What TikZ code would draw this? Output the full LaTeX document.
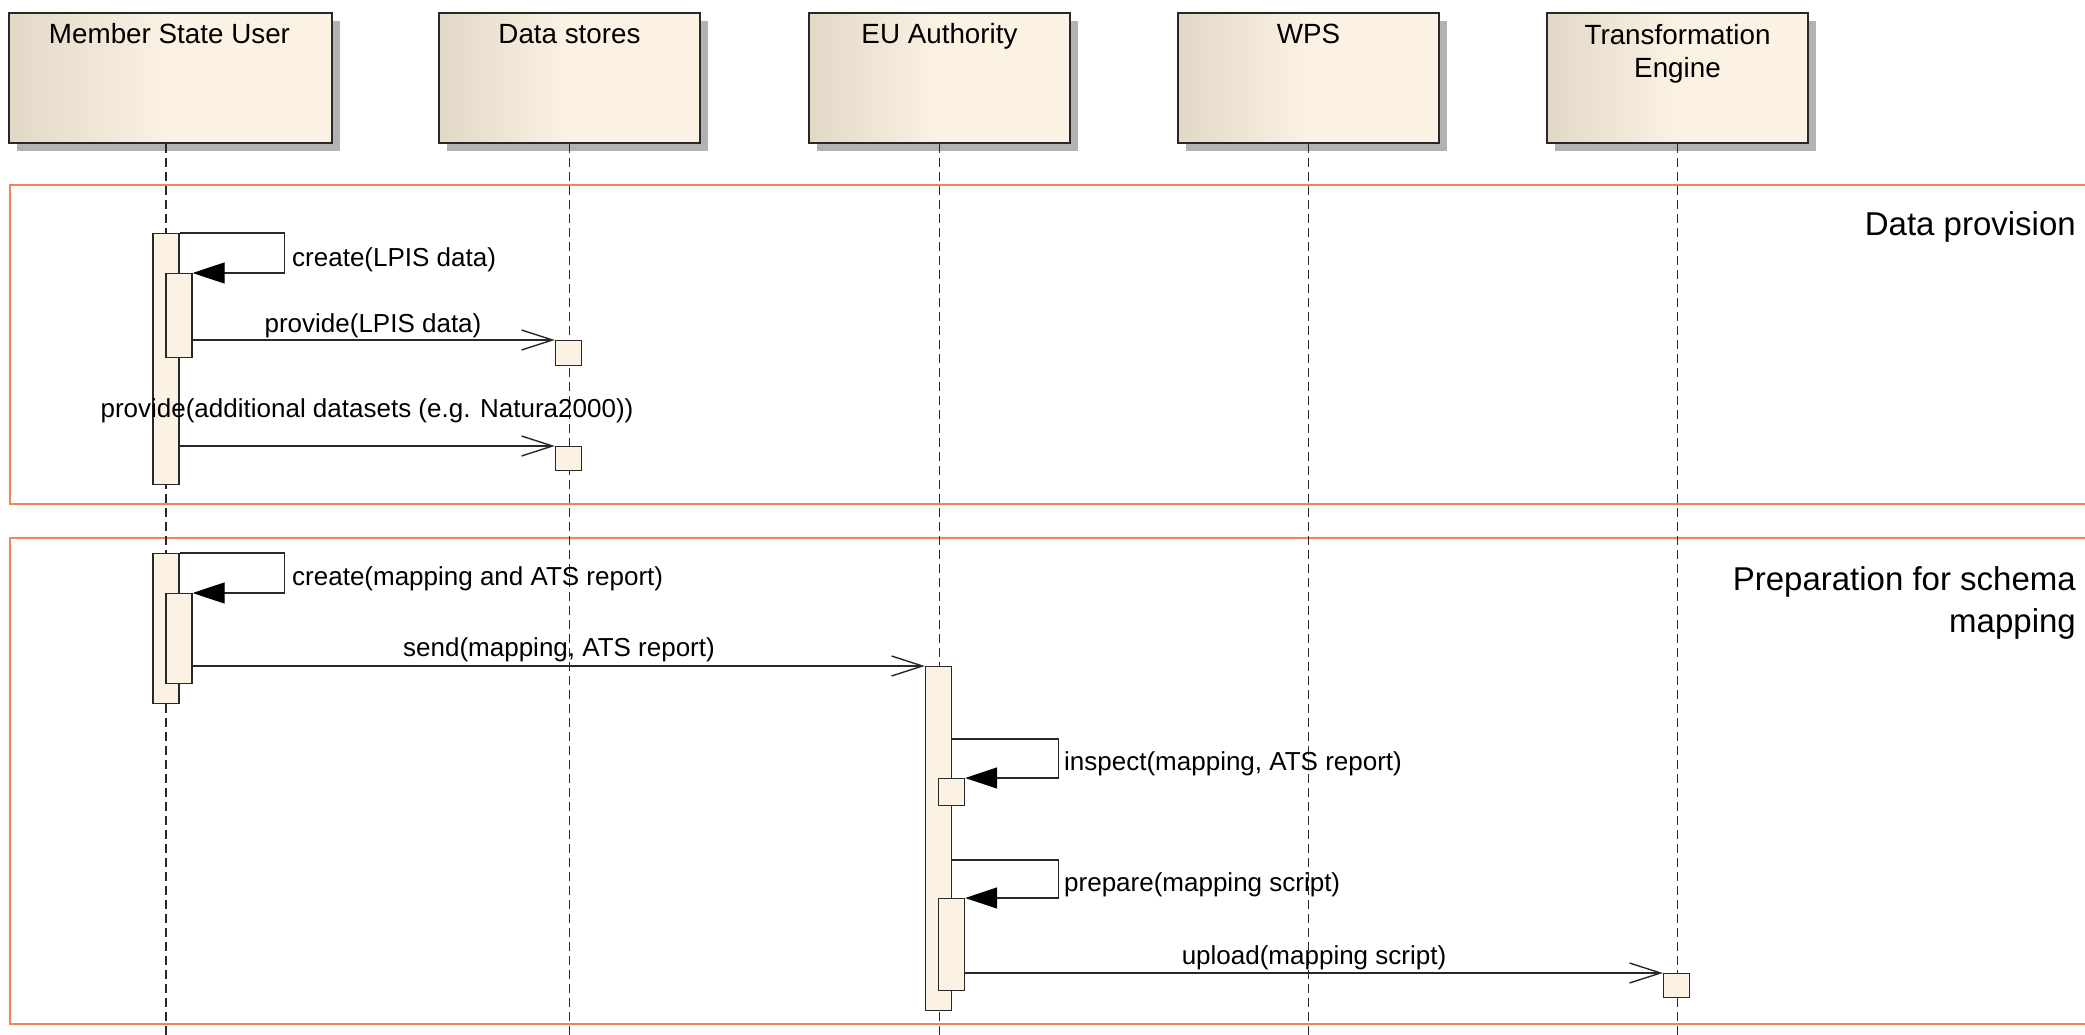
\documentclass[tikz,border=0pt]{standalone}
\usepackage{fontspec}
\setmainfont{Liberation Sans}
\usetikzlibrary{arrows.meta,shadows}

\definecolor{ink}{RGB}{40,40,40}
\definecolor{hdrdark}{RGB}{226,216,198}
\definecolor{hdrlight}{RGB}{252,242,228}
\definecolor{actfill}{RGB}{252,242,228}
\definecolor{shadowgray}{RGB}{178,178,178}
\definecolor{framecol}{RGB}{242,130,90}

\begin{document}
\begin{tikzpicture}[x=1pt,y=-1pt,
  header/.style={draw=ink, line width=2pt, inner sep=0pt, anchor=north west,
    minimum height=130pt, left color=hdrdark, right color=hdrlight, middle color=hdrlight,
    drop shadow={shadow xshift=8pt, shadow yshift=-8pt, fill=shadowgray, opacity=1}},
  hdrtext/.style={font=\fontsize{27.8}{33}\selectfont, inner sep=0pt, align=center},
  lifeline/.style={draw=ink, line width=1.4pt, dash pattern=on 9pt off 5pt},
  act/.style={draw=ink, fill=actfill, line width=1.4pt, inner sep=0pt,
    minimum width=26pt, anchor=north},
  fragment/.style={draw=framecol, line width=1.8pt, inner sep=0pt, anchor=north west},
  fragtitle/.style={font=\fontsize{33}{42}\selectfont, inner sep=0pt, align=right},
  msg/.style={font=\fontsize{26}{31}\selectfont, inner sep=0pt},
  sync/.style={draw=ink, line width=1.4pt, -{Triangle[length=32pt,width=21pt,color=black,fill=black]}},
  async/.style={draw=ink, line width=1.4pt, -{Straight Barb[length=31pt,width=20pt]}}
]
\useasboundingbox (0,0) rectangle (2085,1035);

% combined fragments
\node[fragment, minimum width=2100pt, minimum height=319pt] (frA) at (9,184) {};
\node[fragment, minimum width=2100pt, minimum height=486pt] (frB) at (9,537) {};
\node[fragtitle, anchor=base east] (tA) at (2076,235) {Data provision};
\node[fragtitle, anchor=north east] (tB) at (2076,566) {Preparation for schema\\mapping};

% participants
\node[header, minimum width=323pt] (hMSU) at (8,12) {};
\node[header, minimum width=261pt] (hDS) at (438,12) {};
\node[header, minimum width=261pt] (hEU) at (808,12) {};
\node[header, minimum width=261pt] (hWPS) at (1177,12) {};
\node[header, minimum width=261pt] (hTE) at (1546,12) {};

\node[hdrtext, anchor=base] (tMSU) at (169.5,44) {Member State User};
\node[hdrtext, anchor=base] (tDS) at (hDS.north |- 0,44) {Data stores};
\node[hdrtext, anchor=base] (tEU) at (hEU.north |- 0,44) {EU Authority};
\node[hdrtext, anchor=base] (tWPS) at (hWPS.north |- 0,44) {WPS};
\node[hdrtext, anchor=north] (tTE) at (hTE.north |- 0,23.7) {Transformation\\Engine};

% lifelines
\coordinate (endMSU) at (166,1045);
\draw[lifeline] (hMSU.south -| endMSU) -- (endMSU);
\draw[lifeline] (hDS.south) -- (hDS.south |- endMSU);
\draw[lifeline] (hEU.south) -- (hEU.south |- endMSU);
\draw[lifeline] (hWPS.south) -- (hWPS.south |- endMSU);
\draw[lifeline] (hTE.south) -- (hTE.south |- endMSU);

% activations
\node[act, minimum height=251pt] (aM1) at (166,233) {};
\node[act, minimum height=84pt]  (nM1) at (179,273) {};
\node[act, minimum height=25pt]  (aD1) at (568.5,340) {};
\node[act, minimum height=24pt]  (aD2) at (568.5,446) {};
\node[act, minimum height=150pt] (aM2) at (166,553) {};
\node[act, minimum height=90pt]  (nM2) at (179,593) {};
\node[act, minimum height=344pt] (aE1) at (938.5,666) {};
\node[act, minimum height=27pt]  (nE1) at (951.5,778) {};
\node[act, minimum height=92pt]  (nE2) at (951.5,898) {};
\node[act, minimum height=24pt]  (aT1) at (1676.5,973) {};

% messages
\draw[sync] (aM1.north east) -- ++(105,0) |- (nM1.north east);
\draw[async] (nM1.east |- aD1.north) -- (aD1.north west);
\draw[async] (aM1.east |- aD2.north) -- (aD2.north west);
\draw[sync] (aM2.north east) -- ++(105,0) |- (nM2.north east);
\draw[async] (nM2.east |- aE1.north) -- (aE1.north west);
\draw[sync] (aE1.east |- 0,739) -- ++(106,0) |- (nE1.north east);
\draw[sync] (aE1.east |- 0,860) -- ++(106,0) |- (nE2.north east);
\draw[async] (nE2.east |- aT1.north) -- (aT1.north west);

% message labels
\node[msg, anchor=base west] (m1) at (292,266) {create(LPIS data)};
\node[msg, anchor=base] (m2) at (373,332) {provide(LPIS data)};
\node[msg, anchor=base] (m3) at (367,417) {provide(additional datasets (e.g. Natura2000))};
\node[msg, anchor=base west] (m4) at (292,585) {create(mapping and ATS report)};
\node[msg, anchor=base] (m5) at (559,656) {send(mapping, ATS report)};
\node[msg, anchor=base west] (m6) at (1064,770) {inspect(mapping, ATS report)};
\node[msg, anchor=base west] (m7) at (1064,891) {prepare(mapping script)};
\node[msg, anchor=base] (m8) at (1314,964) {upload(mapping script)};
\end{tikzpicture}
\end{document}
